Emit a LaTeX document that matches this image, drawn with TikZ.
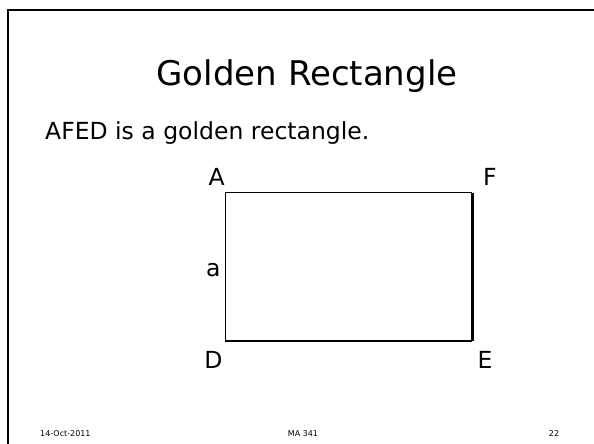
\documentclass[tikz,border=0pt]{standalone}
\usepackage{fontspec}
\setmainfont{DejaVu Sans}
\usetikzlibrary{positioning}
\tikzset{
    slideframe/.style={line width=2.5pt, black},
    rectside/.style={line width=1.5pt},
    longside/.style={line width=3pt},
    titletext/.style={font=\fontsize{34}{37}\selectfont, inner sep=0pt},
    bodytext/.style={font=\fontsize{23.5}{26}\selectfont, inner sep=0pt},
    footer/.style={font=\fontsize{8}{9}\selectfont, anchor=base, inner sep=0pt},
}
\begin{document}
\begin{tikzpicture}[x=1pt, y=-1pt]
    \useasboundingbox (0,0) rectangle (594,444);
    % slide frame (right and bottom edges run off the page)
    \draw[slideframe] (8,444) -- (8,10) -- (594,10);
    \node[titletext, anchor=base] (title) at (307,85) {Golden Rectangle};
    \node[bodytext, anchor=base west] (intro) at (45,139) {AFED is a golden rectangle.};
    % corners of the rectangle
    \coordinate (A) at (225.7,192.7);
    \coordinate (F) at (472.3,192.7);
    \coordinate (E) at (472.3,341);
    \coordinate (D) at (225.7,341);
    \draw[rectside] (E) -- (D) -- (A) -- (F);
    \draw[longside] (F) -- (E);
    % corner labels
    \node[bodytext] (labA) at (216.7,176.7) {A};
    \node[bodytext] (labF) at (490,176.7) {F};
    \node[bodytext] (labD) at (213.3,360) {D};
    \node[bodytext] (labE) at (485,360) {E};
    \node[bodytext] (laba) at (213.3,270) {a};
    % footer
    \node[footer, anchor=base west] (date) at (40,436) {14-Oct-2011};
    \node[footer] (course) at (303,436) {MA 341};
    \node[footer] (page) at (554,436) {22};
\end{tikzpicture}
\end{document}
